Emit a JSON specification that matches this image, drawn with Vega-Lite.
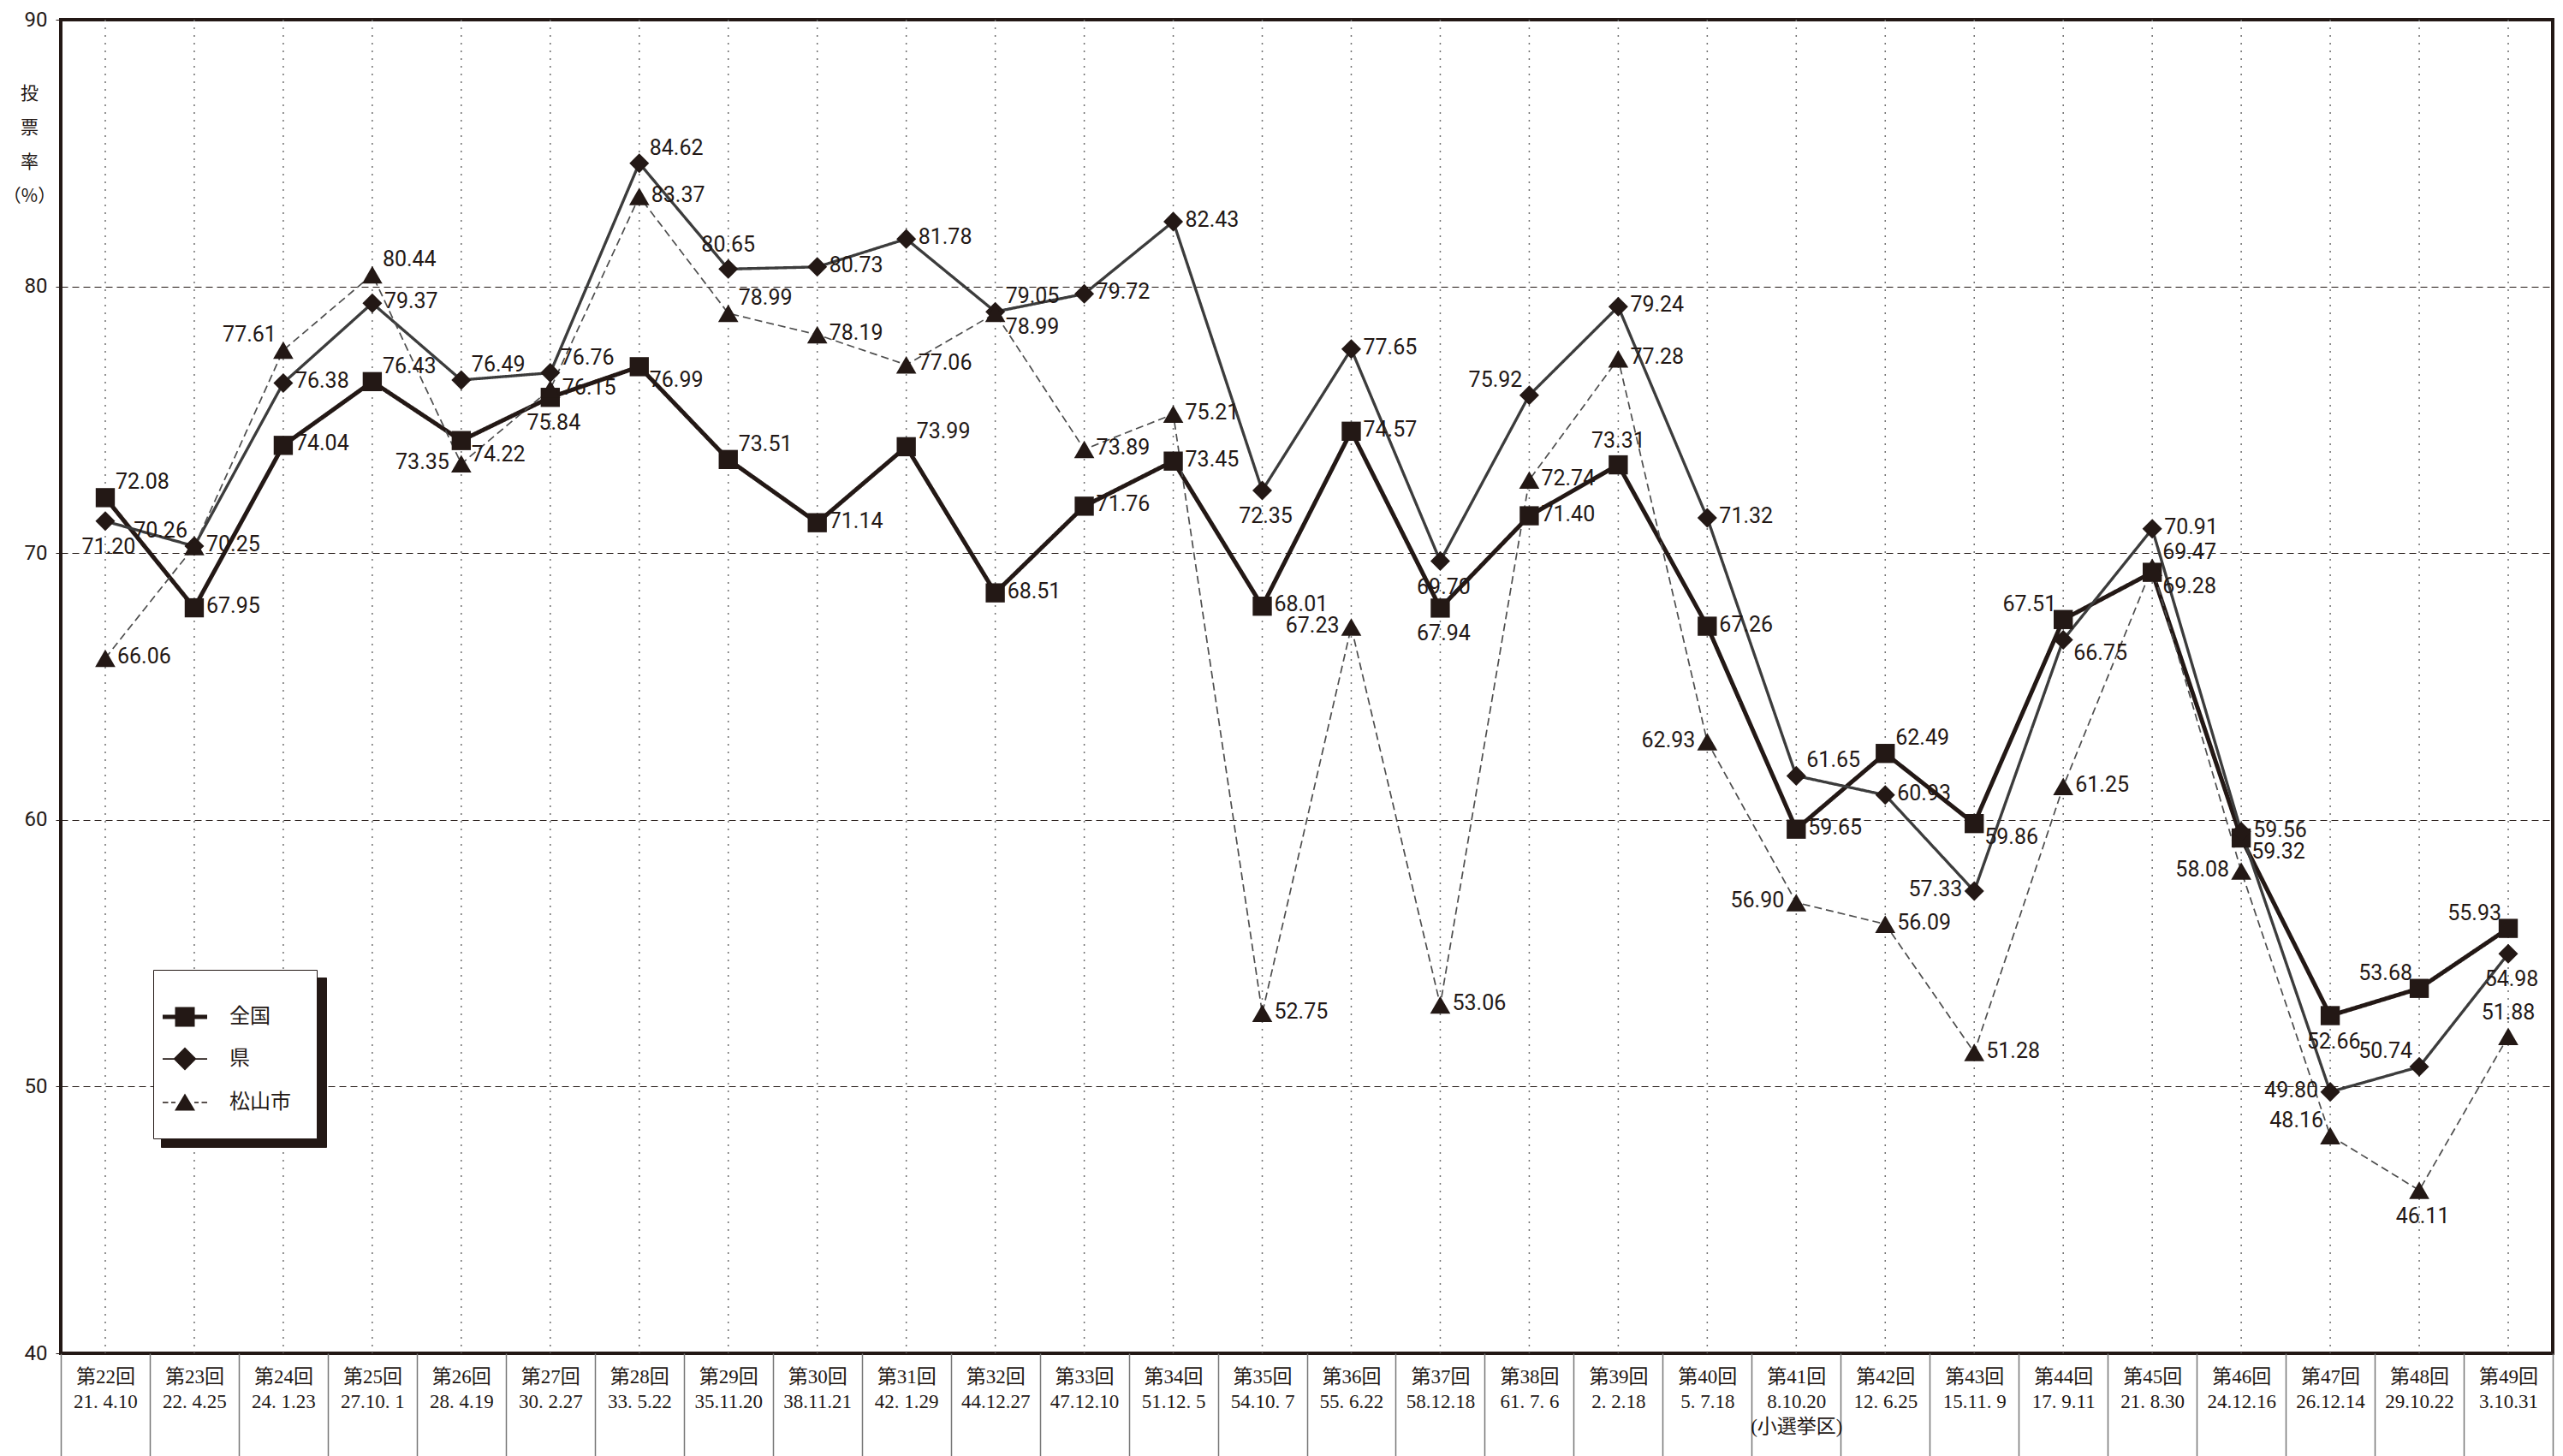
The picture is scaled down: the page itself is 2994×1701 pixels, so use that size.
{
  "$schema": "https://vega.github.io/schema/vega-lite/v6.json",
  "width": 2911,
  "height": 1558,
  "autosize": {"type": "none"},
  "padding": {"left": 71, "top": 23, "right": 12, "bottom": 120},
  "background": "white",
  "config": {
    "view": {"stroke": "#231815", "strokeWidth": 4},
    "font": "Roboto",
    "text": {"font": "Roboto", "fontSize": 25, "color": "#231815"}
  },
  "data": {
    "values": [
      {"election": "第22回|21. 4.10", "series": "全国", "rate": 72.08},
      {"election": "第22回|21. 4.10", "series": "県", "rate": 71.20},
      {"election": "第22回|21. 4.10", "series": "松山市", "rate": 66.06},
      {"election": "第23回|22. 4.25", "series": "全国", "rate": 67.95},
      {"election": "第23回|22. 4.25", "series": "県", "rate": 70.26},
      {"election": "第23回|22. 4.25", "series": "松山市", "rate": 70.25},
      {"election": "第24回|24. 1.23", "series": "全国", "rate": 74.04},
      {"election": "第24回|24. 1.23", "series": "県", "rate": 76.38},
      {"election": "第24回|24. 1.23", "series": "松山市", "rate": 77.61},
      {"election": "第25回|27.10. 1", "series": "全国", "rate": 76.43},
      {"election": "第25回|27.10. 1", "series": "県", "rate": 79.37},
      {"election": "第25回|27.10. 1", "series": "松山市", "rate": 80.44},
      {"election": "第26回|28. 4.19", "series": "全国", "rate": 74.22},
      {"election": "第26回|28. 4.19", "series": "県", "rate": 76.49},
      {"election": "第26回|28. 4.19", "series": "松山市", "rate": 73.35},
      {"election": "第27回|30. 2.27", "series": "全国", "rate": 75.84},
      {"election": "第27回|30. 2.27", "series": "県", "rate": 76.76},
      {"election": "第27回|30. 2.27", "series": "松山市", "rate": 76.15},
      {"election": "第28回|33. 5.22", "series": "全国", "rate": 76.99},
      {"election": "第28回|33. 5.22", "series": "県", "rate": 84.62},
      {"election": "第28回|33. 5.22", "series": "松山市", "rate": 83.37},
      {"election": "第29回|35.11.20", "series": "全国", "rate": 73.51},
      {"election": "第29回|35.11.20", "series": "県", "rate": 80.65},
      {"election": "第29回|35.11.20", "series": "松山市", "rate": 78.99},
      {"election": "第30回|38.11.21", "series": "全国", "rate": 71.14},
      {"election": "第30回|38.11.21", "series": "県", "rate": 80.73},
      {"election": "第30回|38.11.21", "series": "松山市", "rate": 78.19},
      {"election": "第31回|42. 1.29", "series": "全国", "rate": 73.99},
      {"election": "第31回|42. 1.29", "series": "県", "rate": 81.78},
      {"election": "第31回|42. 1.29", "series": "松山市", "rate": 77.06},
      {"election": "第32回|44.12.27", "series": "全国", "rate": 68.51},
      {"election": "第32回|44.12.27", "series": "県", "rate": 79.05},
      {"election": "第32回|44.12.27", "series": "松山市", "rate": 78.99},
      {"election": "第33回|47.12.10", "series": "全国", "rate": 71.76},
      {"election": "第33回|47.12.10", "series": "県", "rate": 79.72},
      {"election": "第33回|47.12.10", "series": "松山市", "rate": 73.89},
      {"election": "第34回|51.12. 5", "series": "全国", "rate": 73.45},
      {"election": "第34回|51.12. 5", "series": "県", "rate": 82.43},
      {"election": "第34回|51.12. 5", "series": "松山市", "rate": 75.21},
      {"election": "第35回|54.10. 7", "series": "全国", "rate": 68.01},
      {"election": "第35回|54.10. 7", "series": "県", "rate": 72.35},
      {"election": "第35回|54.10. 7", "series": "松山市", "rate": 52.75},
      {"election": "第36回|55. 6.22", "series": "全国", "rate": 74.57},
      {"election": "第36回|55. 6.22", "series": "県", "rate": 77.65},
      {"election": "第36回|55. 6.22", "series": "松山市", "rate": 67.23},
      {"election": "第37回|58.12.18", "series": "全国", "rate": 67.94},
      {"election": "第37回|58.12.18", "series": "県", "rate": 69.70},
      {"election": "第37回|58.12.18", "series": "松山市", "rate": 53.06},
      {"election": "第38回|61. 7. 6", "series": "全国", "rate": 71.40},
      {"election": "第38回|61. 7. 6", "series": "県", "rate": 75.92},
      {"election": "第38回|61. 7. 6", "series": "松山市", "rate": 72.74},
      {"election": "第39回|2. 2.18", "series": "全国", "rate": 73.31},
      {"election": "第39回|2. 2.18", "series": "県", "rate": 79.24},
      {"election": "第39回|2. 2.18", "series": "松山市", "rate": 77.28},
      {"election": "第40回|5. 7.18", "series": "全国", "rate": 67.26},
      {"election": "第40回|5. 7.18", "series": "県", "rate": 71.32},
      {"election": "第40回|5. 7.18", "series": "松山市", "rate": 62.93},
      {"election": "第41回|8.10.20|(小選挙区)", "series": "全国", "rate": 59.65},
      {"election": "第41回|8.10.20|(小選挙区)", "series": "県", "rate": 61.65},
      {"election": "第41回|8.10.20|(小選挙区)", "series": "松山市", "rate": 56.90},
      {"election": "第42回|12. 6.25", "series": "全国", "rate": 62.49},
      {"election": "第42回|12. 6.25", "series": "県", "rate": 60.93},
      {"election": "第42回|12. 6.25", "series": "松山市", "rate": 56.09},
      {"election": "第43回|15.11. 9", "series": "全国", "rate": 59.86},
      {"election": "第43回|15.11. 9", "series": "県", "rate": 57.33},
      {"election": "第43回|15.11. 9", "series": "松山市", "rate": 51.28},
      {"election": "第44回|17. 9.11", "series": "全国", "rate": 67.51},
      {"election": "第44回|17. 9.11", "series": "県", "rate": 66.75},
      {"election": "第44回|17. 9.11", "series": "松山市", "rate": 61.25},
      {"election": "第45回|21. 8.30", "series": "全国", "rate": 69.28},
      {"election": "第45回|21. 8.30", "series": "県", "rate": 70.91},
      {"election": "第45回|21. 8.30", "series": "松山市", "rate": 69.47},
      {"election": "第46回|24.12.16", "series": "全国", "rate": 59.32},
      {"election": "第46回|24.12.16", "series": "県", "rate": 59.56},
      {"election": "第46回|24.12.16", "series": "松山市", "rate": 58.08},
      {"election": "第47回|26.12.14", "series": "全国", "rate": 52.66},
      {"election": "第47回|26.12.14", "series": "県", "rate": 49.80},
      {"election": "第47回|26.12.14", "series": "松山市", "rate": 48.16},
      {"election": "第48回|29.10.22", "series": "全国", "rate": 53.68},
      {"election": "第48回|29.10.22", "series": "県", "rate": 50.74},
      {"election": "第48回|29.10.22", "series": "松山市", "rate": 46.11},
      {"election": "第49回|3.10.31", "series": "全国", "rate": 55.93},
      {"election": "第49回|3.10.31", "series": "県", "rate": 54.98},
      {"election": "第49回|3.10.31", "series": "松山市", "rate": 51.88}
    ]
  },
  "layer": [
    {
      "transform": [{"filter": "datum.series === '全国'"}],
      "mark": {"type": "rule", "strokeDash": [2, 7], "color": "#6f6f6f", "strokeWidth": 1.5},
      "encoding": {
        "x": {
          "field": "election", "type": "nominal", "sort": null,
          "scale": {"type": "band", "paddingInner": 0, "paddingOuter": 0},
          "axis": {
            "title": null,
            "labelExpr": "isValid(datum.value) ? split(datum.value, '|') : ''",
            "labelAngle": 0,
            "labelFont": "Liberation Serif, Noto Sans CJK JP",
            "labelFontSize": 23,
            "labelColor": "#231815",
            "labelLineHeight": 29,
            "labelPadding": -104,
            "labelBaseline": "top",
            "labelOverlap": false,
            "tickBand": "extent",
            "tickSize": 120,
            "tickColor": "#777777",
            "tickWidth": 1.5,
            "domain": false,
            "grid": false
          }
        }
      }
    },
    {
      "mark": {"type": "line", "strokeJoin": "miter"},
      "encoding": {
        "x": {"field": "election", "type": "nominal", "sort": null},
        "y": {
          "field": "rate", "type": "quantitative",
          "scale": {"domain": [40, 90], "nice": false, "zero": false},
          "axis": {
            "title": ["投", "票", "率", "（%）"],
            "titleAngle": 0,
            "titleX": -37,
            "titleY": 75,
            "titleAlign": "center",
            "titleBaseline": "top",
            "titleFont": "Noto Sans CJK JP",
            "titleFontSize": 21,
            "titleFontWeight": "normal",
            "titleLineHeight": 40,
            "titleColor": "#231815",
            "values": [40, 50, 60, 70, 80, 90],
            "labelFont": "Roboto",
            "labelFontSize": 24,
            "labelColor": "#231815",
            "labelPadding": 6,
            "tickSize": 10,
            "tickColor": "#231815",
            "tickDash": [6, 4],
            "domain": false,
            "grid": true,
            "gridColor": "#231815",
            "gridDash": [8, 5],
            "gridWidth": 1.2
          }
        },
        "stroke": {
          "field": "series", "type": "nominal",
          "scale": {"domain": ["全国", "県", "松山市"], "range": ["#231815", "#3c3c3c", "#4e4e4e"]},
          "legend": null
        },
        "strokeWidth": {
          "field": "series", "type": "nominal",
          "scale": {"domain": ["全国", "県", "松山市"], "range": [5, 1.7, 1.6]},
          "legend": null
        },
        "strokeDash": {
          "field": "series", "type": "nominal",
          "scale": {"domain": ["松山市", "県", "全国"], "range": [[9, 5], [1, 0], [1, 0]]},
          "legend": {
            "orient": "none",
            "legendX": 117,
            "legendY": 1119,
            "title": null,
            "padding": 30,
            "fillColor": "#231815",
            "strokeColor": "#231815",
            "labelColor": "#231815",
            "labelExpr": "''",
            "symbolStrokeColor": "#231815",
            "symbolSize": 2500,
            "symbolOffset": -18,
            "labelOffset": 99,
            "labelFont": "Noto Sans CJK JP",
            "labelFontSize": 24,
            "rowPadding": 12,
            "zindex": 0
          }
        }
      }
    },
    {
      "mark": {"type": "point", "filled": true, "opacity": 1, "color": "#231815"},
      "encoding": {
        "x": {"field": "election", "type": "nominal", "sort": null},
        "y": {"field": "rate", "type": "quantitative"},
        "shape": {
          "field": "series", "type": "nominal",
          "scale": {"domain": ["全国", "県", "松山市"], "range": ["square", "diamond", "triangle-up"]},
          "legend": null
        },
        "size": {
          "field": "series", "type": "nominal",
          "scale": {"domain": ["全国", "県", "松山市"], "range": [500, 560, 480]},
          "legend": null
        }
      }
    },
    {
      "transform": [{"filter": "indexof(['22県','23県','24松山市','26松山市','36松山市','38県','40松山市','41松山市','43県','44全国','46松山市','47県','47松山市','48全国','48県','49全国','29県','39全国','49松山市','37県','37全国','47全国','49県','48松山市','35県','27全国','22全国','25全国','25松山市','26県','27県','29松山市','29全国','32県','41県','42全国','45松山市','31全国','28県','26全国','28全国','32松山市','43全国','44県','45全国','46全国'], slice(datum.election, 1, 3) + datum.series) < 0"}],
      "mark": {"type": "text", "align": "left", "baseline": "middle", "dx": 14, "dy": -2},
      "encoding": {
        "x": {"field": "election", "type": "nominal", "sort": null},
        "y": {"field": "rate", "type": "quantitative"},
        "text": {"field": "rate", "type": "quantitative", "format": ".2f"}
      }
    },
    {
      "transform": [{"filter": "indexof(['22全国','25全国','25松山市','26県','27県','29松山市','29全国','32県','41県','42全国','45松山市','31全国','28県'], slice(datum.election, 1, 3) + datum.series) >= 0"}],
      "mark": {"type": "text", "align": "left", "baseline": "middle", "dx": 12, "dy": -18},
      "encoding": {
        "x": {"field": "election", "type": "nominal", "sort": null},
        "y": {"field": "rate", "type": "quantitative"},
        "text": {"field": "rate", "type": "quantitative", "format": ".2f"}
      }
    },
    {
      "transform": [{"filter": "indexof(['26全国','28全国','32松山市','43全国','44県','45全国','46全国'], slice(datum.election, 1, 3) + datum.series) >= 0"}],
      "mark": {"type": "text", "align": "left", "baseline": "middle", "dx": 12, "dy": 16},
      "encoding": {
        "x": {"field": "election", "type": "nominal", "sort": null},
        "y": {"field": "rate", "type": "quantitative"},
        "text": {"field": "rate", "type": "quantitative", "format": ".2f"}
      }
    },
    {
      "transform": [{"filter": "indexof(['26松山市','36松山市','40松山市','41松山市','43県','46松山市','47県'], slice(datum.election, 1, 3) + datum.series) >= 0"}],
      "mark": {"type": "text", "align": "right", "baseline": "middle", "dx": -14, "dy": -2},
      "encoding": {
        "x": {"field": "election", "type": "nominal", "sort": null},
        "y": {"field": "rate", "type": "quantitative"},
        "text": {"field": "rate", "type": "quantitative", "format": ".2f"}
      }
    },
    {
      "transform": [{"filter": "indexof(['23県','24松山市','38県','44全国','47松山市','48全国','48県','49全国'], slice(datum.election, 1, 3) + datum.series) >= 0"}],
      "mark": {"type": "text", "align": "right", "baseline": "middle", "dx": -8, "dy": -18},
      "encoding": {
        "x": {"field": "election", "type": "nominal", "sort": null},
        "y": {"field": "rate", "type": "quantitative"},
        "text": {"field": "rate", "type": "quantitative", "format": ".2f"}
      }
    },
    {
      "transform": [{"filter": "indexof(['29県','39全国','49松山市'], slice(datum.election, 1, 3) + datum.series) >= 0"}],
      "mark": {"type": "text", "align": "center", "baseline": "middle", "dx": 0, "dy": -28},
      "encoding": {
        "x": {"field": "election", "type": "nominal", "sort": null},
        "y": {"field": "rate", "type": "quantitative"},
        "text": {"field": "rate", "type": "quantitative", "format": ".2f"}
      }
    },
    {
      "transform": [{"filter": "indexof(['22県','37県','37全国','47全国','49県','48松山市','35県','27全国'], slice(datum.election, 1, 3) + datum.series) >= 0"}],
      "mark": {"type": "text", "align": "center", "baseline": "middle", "dx": 4, "dy": 30},
      "encoding": {
        "x": {"field": "election", "type": "nominal", "sort": null},
        "y": {"field": "rate", "type": "quantitative"},
        "text": {"field": "rate", "type": "quantitative", "format": ".2f"}
      }
    },
    {
      "mark": {"type": "point", "filled": true, "opacity": 0, "size": 2500, "color": "#231815"},
      "encoding": {
        "x": {"field": "election", "type": "nominal", "sort": null},
        "y": {"field": "rate", "type": "quantitative"},
        "shape": {
          "field": "series", "type": "nominal",
          "sort": ["全国", "県", "松山市"],
          "scale": {"range": [
            "M-1.04,-0.1H1.04V0.1H-1.04ZM-0.46,-0.46H0.46V0.46H-0.46Z",
            "M-1.04,-0.035H1.04V0.035H-1.04ZM0,-0.54L0.54,0L0,0.54L-0.54,0Z",
            "M-1.04,-0.03H-0.78V0.03H-1.04ZM-0.64,-0.03H-0.44V0.03H-0.64ZM0.44,-0.03H0.64V0.03H0.44ZM0.78,-0.03H1.04V0.03H0.78ZM0,-0.42L0.48,0.38H-0.48Z"
          ]},
          "legend": {
            "orient": "none",
            "legendX": 108,
            "legendY": 1110,
            "title": null,
            "padding": 30,
            "fillColor": "white",
            "strokeColor": "#231815",
            "symbolOpacity": 1,
            "symbolFillColor": "#231815",
            "symbolStrokeWidth": 0,
            "symbolSize": 2500,
            "symbolOffset": -18,
            "labelOffset": 27,
            "labelFont": "Noto Sans CJK JP",
            "labelFontSize": 24,
            "labelColor": "#231815",
            "rowPadding": 12,
            "zindex": 1
          }
        }
      }
    }
  ],
  "resolve": {"scale": {"shape": "independent", "size": "independent"}}
}
